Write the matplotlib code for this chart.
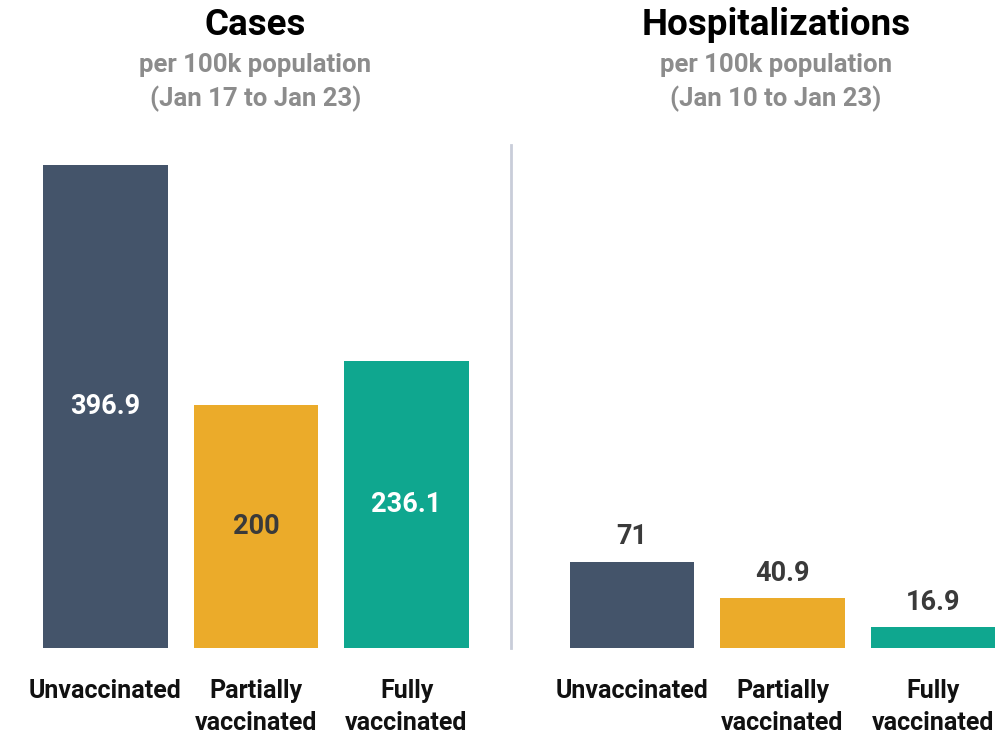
import matplotlib.pyplot as plt
from matplotlib.lines import Line2D

categories = ['Unvaccinated', 'Partially\nvaccinated', 'Fully\nvaccinated']
cases = [396.9, 200, 236.1]
hospitalizations = [71, 40.9, 16.9]
case_labels = ['396.9', '200', '236.1']
hosp_labels = ['71', '40.9', '16.9']

colors = ['#44546a', '#ebab2a', '#0fa78f']
case_label_colors = ['white', '#3a3a3a', 'white']

plt.rcParams['font.family'] = ['Roboto', 'DejaVu Sans']

fig = plt.figure(figsize=(10, 7.33), dpi=100)

# both panels use the same y scale
ax1 = fig.add_axes([30.25 / 1000, 85 / 733, 451.5 / 1000, 487 / 733])
ax2 = fig.add_axes([556.75 / 1000, 85 / 733, 443.25 / 1000, 487 / 733])

x = range(len(categories))
ax1.bar(x, cases, width=0.83, color=colors)
ax2.bar(x, hospitalizations, width=0.83, color=colors)

ax1.set_xlim(-0.5, 2.5)
ax2.set_xlim(-0.5, 2.445)
for ax in (ax1, ax2):
    ax.set_ylim(0, 400)
    ax.set_yticks([])
    ax.set_xticks(list(x))
    ax.set_xticklabels(categories, fontsize=18, fontweight='bold', color='#111111',
                       linespacing=1.42)
    ax.tick_params(axis='x', length=0, pad=22)
    for s in ax.spines.values():
        s.set_visible(False)

# Cases labels sit in the middle of the bars
for i, v in enumerate(cases):
    ax1.text(i, v / 2, case_labels[i], ha='center', va='center', fontsize=19.5,
             fontweight='bold', color=case_label_colors[i])

# Hospitalization labels go above the bars
for i, v in enumerate(hospitalizations):
    ax2.annotate(hosp_labels[i], (i, v), xytext=(0, 8), textcoords='offset points',
                 ha='center', va='bottom', fontsize=19.5, fontweight='bold', color='#3a3a3a')

# Titles
fig.text(255.5 / 1000, 1 - 25 / 733, 'Cases', ha='center', va='center',
         fontsize=26.5, fontweight='bold', color='black')
fig.text(255.5 / 1000, 1 - 65 / 733, 'per 100k population', ha='center', va='center',
         fontsize=18.5, fontweight='bold', color='#8c8c8c')
fig.text(255.5 / 1000, 1 - 99 / 733, '(Jan 17 to Jan 23)', ha='center', va='center',
         fontsize=18.5, fontweight='bold', color='#8c8c8c')

fig.text(776 / 1000, 1 - 25 / 733, 'Hospitalizations', ha='center', va='center',
         fontsize=26.5, fontweight='bold', color='black')
fig.text(776 / 1000, 1 - 65 / 733, 'per 100k population', ha='center', va='center',
         fontsize=18.5, fontweight='bold', color='#8c8c8c')
fig.text(776 / 1000, 1 - 99 / 733, '(Jan 10 to Jan 23)', ha='center', va='center',
         fontsize=18.5, fontweight='bold', color='#8c8c8c')

# divider between the panels
fig.add_artist(Line2D([511 / 1000, 511 / 1000], [1 - 145 / 733, 1 - 648 / 733],
                      color='#c9cdd9', linewidth=2))

fig.savefig('out.png', dpi=100)
